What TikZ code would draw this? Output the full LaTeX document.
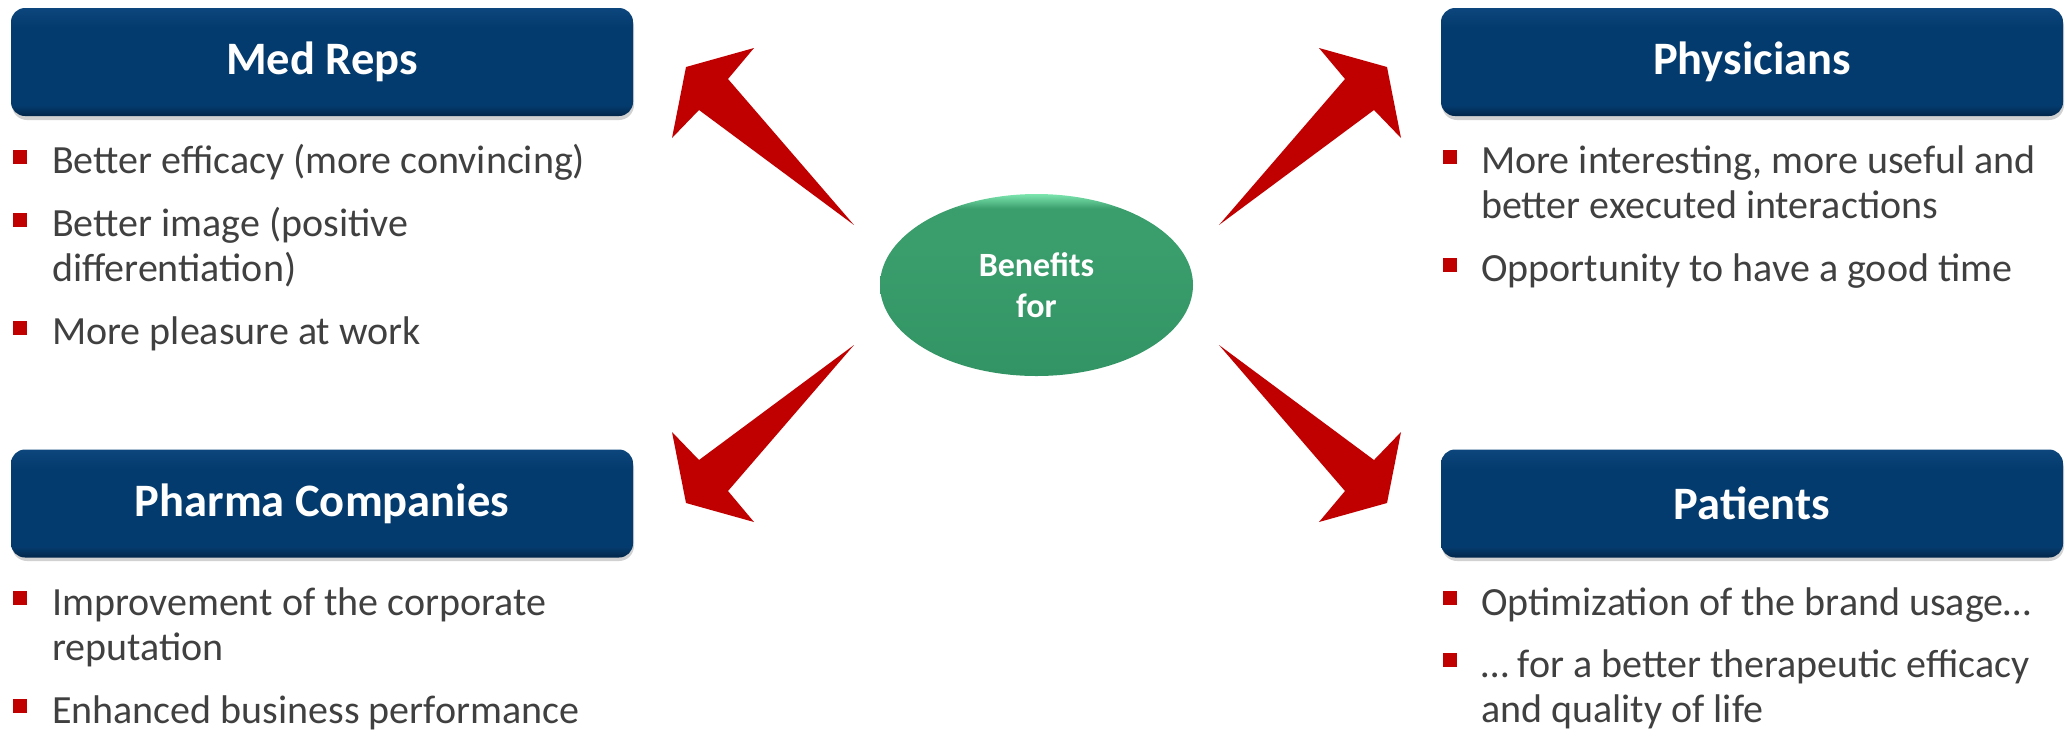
\documentclass[tikz,border=0pt]{standalone}
\usepackage{fontspec}
\setmainfont{Carlito}
\usetikzlibrary{shapes.geometric}
\definecolor{navy}{RGB}{4,59,110}
\definecolor{navytop}{RGB}{12,70,124}
\definecolor{navybot}{RGB}{2,38,74}
\definecolor{arrowred}{RGB}{192,0,0}
\definecolor{txtgray}{RGB}{64,64,64}
\definecolor{gD}{RGB}{50,148,100}
\definecolor{gM}{RGB}{58,157,108}
\definecolor{gL}{RGB}{125,230,175}
\pgfdeclareverticalshading{boxshade}{100bp}{color(0bp)=(navybot); color(25bp)=(navybot); color(30bp)=(navy); color(66bp)=(navy); color(75bp)=(navytop); color(100bp)=(navytop)}
\pgfdeclareverticalshading{ellshade}{100bp}{color(0bp)=(gD); color(25bp)=(gD); color(60bp)=(gM); color(71bp)=(gM); color(75bp)=(gL); color(100bp)=(gL)}
\tikzset{
  titlebox/.style={rectangle, rounded corners=14pt, minimum width=622pt, minimum height=108pt,
    shade, shading=boxshade, text=white, inner sep=0pt,
    font=\fontsize{46.5}{56}\selectfont\bfseries},
  boxshadow/.style={fill=black, opacity=0.18, rounded corners=15pt},
  hubstyle/.style={ellipse, minimum width=313pt, minimum height=182pt, inner sep=0pt,
    shade, shading=ellshade, text=white, align=center,
    font=\fontsize{34}{41}\selectfont\bfseries},
  bulletsq/.style={rectangle, fill=arrowred, minimum size=14pt, inner sep=0pt},
  itemtext/.style={anchor=base west, inner sep=0pt, text=txtgray, align=left,
    font=\fontsize{40}{45}\selectfont},
  pics/redarrow/.style={code={
    \fill[arrowred] (-182.5,-60) -- (-308.5,-206) -- (-282.5,-237) -- (-350.5,-218)
      -- (-364.5,-147) -- (-337.5,-175) -- cycle;}}
}
\begin{document}
\begin{tikzpicture}[x=1pt,y=-1pt]
\useasboundingbox (0,0) rectangle (2069,732);
% shadows
\fill[boxshadow] (12,12) rectangle (634,120);
\fill[boxshadow] (1442,12) rectangle (2064,120);
\fill[boxshadow] (12,454) rectangle (634,561);
\fill[boxshadow] (1442,454) rectangle (2064,561);
% title boxes
\node[titlebox] (medreps) at (322,62) {Med Reps};
\node[titlebox] (physicians) at (1752,62) {Physicians};
\node[titlebox] (pharma) at (322,503.5) {Pharma Companies};
\node[titlebox] (patients) at (1752,503.5) {Patients};
% hub
\node[hubstyle] (hub) at (1036.5,285) {Benefits\\for};
% arrows
\pic at (hub.center) {redarrow};
\pic[xscale=-1] at (hub.center) {redarrow};
\pic[yscale=-1] at (hub.center) {redarrow};
\pic[xscale=-1,yscale=-1] at (hub.center) {redarrow};
% Med Reps bullets (base anchor = last line baseline)
\node[bulletsq] (mr1b) at (19.7,156.5) {};
\node[itemtext] (mr1) at (52,173) {Better efficacy (more convincing)};
\node[bulletsq] (mr2b) at (19.7,219.5) {};
\node[itemtext] (mr2) at (52,281) {Better image (positive\\differentiation)};
\node[bulletsq] (mr3b) at (19.7,327.5) {};
\node[itemtext] (mr3) at (52,344) {More pleasure at work};
% Physicians bullets
\node[bulletsq] (ph1b) at (1449.5,156.5) {};
\node[itemtext] (ph1) at (1481,218) {More interesting, more useful and\\better executed interactions};
\node[bulletsq] (ph2b) at (1449.5,264.5) {};
\node[itemtext] (ph2) at (1481,281) {Opportunity to have a good time};
% Pharma bullets
\node[bulletsq] (pc1b) at (19.7,598) {};
\node[itemtext] (pc1) at (52,660) {Improvement of the corporate\\reputation};
\node[bulletsq] (pc2b) at (19.7,706) {};
\node[itemtext] (pc2) at (52,723) {Enhanced business performance};
% Patients bullets
\node[bulletsq] (pt1b) at (1449.5,598) {};
\node[itemtext] (pt1) at (1481,615) {Optimization of the brand usage…};
\node[bulletsq] (pt2b) at (1449.5,660) {};
\node[itemtext] (pt2) at (1481,722) {… for a better therapeutic efficacy\\and quality of life};
\end{tikzpicture}
\end{document}
